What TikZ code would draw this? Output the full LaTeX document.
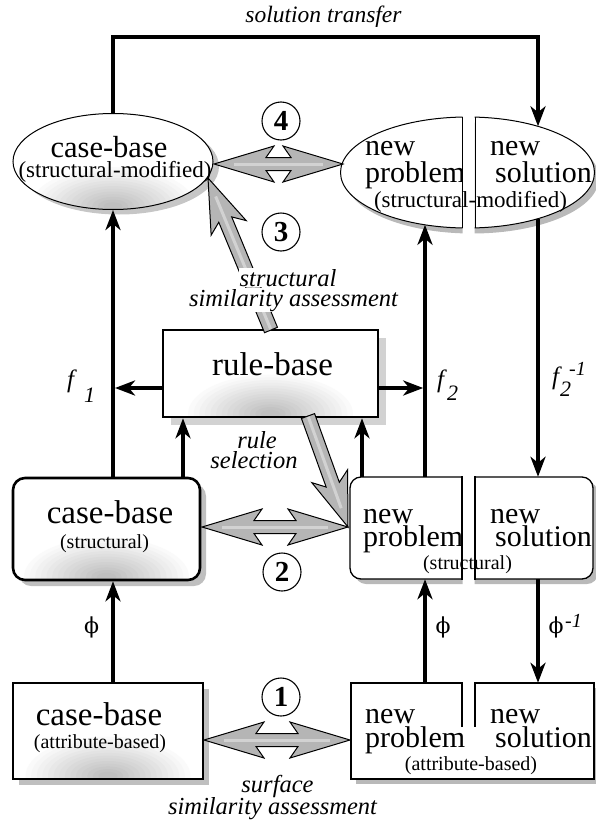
\documentclass[tikz,border=0pt]{standalone}
\usepackage{fontspec}
\setmainfont{Liberation Serif}
\newfontfamily\phifont{DejaVu Serif}
\usetikzlibrary{arrows.meta,shapes.geometric,shadows}

\newdimen\fatxa \newdimen\fatya \newdimen\fatxb \newdimen\fatyb
\newcommand\fatsetup[2]{%
  \pgfextractx{\fatxa}{\pgfpointanchor{#1}{center}}%
  \pgfextracty{\fatya}{\pgfpointanchor{#1}{center}}%
  \pgfextractx{\fatxb}{\pgfpointanchor{#2}{center}}%
  \pgfextracty{\fatyb}{\pgfpointanchor{#2}{center}}%
  \pgfmathsetmacro\fatang{atan2(\fatyb-\fatya,\fatxb-\fatxa)}%
  \pgfmathsetmacro\fatlen{veclen(\fatxb-\fatxa,\fatyb-\fatya)}%
}
\newcommand\fatsingle[2]{%
  \fatsetup{#1}{#2}%
  \begin{scope}[shift={(#1)}, rotate=\fatang]
    \path[fatarrow] (0pt,7pt) -- ({\fatlen pt-45pt},7pt) -- ({\fatlen pt-54pt},19pt) -- ({\fatlen pt},0pt)
      -- ({\fatlen pt-54pt},-19pt) -- ({\fatlen pt-45pt},-7pt) -- (0pt,-7pt) -- cycle;
    \draw[fatlight] (1pt,0pt) -- ({\fatlen pt-20pt},0pt);
  \end{scope}}
\newcommand\fatdouble[2]{%
  \fatsetup{#1}{#2}%
  \begin{scope}[shift={(#1)}, rotate=\fatang]
    \path[fatarrow] (0pt,0pt) -- (60pt,18pt) -- (52pt,6.5pt) -- ({\fatlen pt-52pt},6.5pt) -- ({\fatlen pt-60pt},18pt)
      -- ({\fatlen pt},0pt) -- ({\fatlen pt-60pt},-18pt) -- ({\fatlen pt-52pt},-6.5pt) -- (52pt,-6.5pt) -- (60pt,-18pt) -- cycle;
    \draw[fatlight] (20pt,0pt) -- ({\fatlen pt-20pt},0pt);
  \end{scope}}

\tikzset{
  conn/.style={line width=3.6pt, line join=miter, -{Stealth[length=20pt,width=15pt,inset=6pt]}},
  fatarrow/.style={fill=gray!58, draw=black, line width=1pt, line join=miter, miter limit=10},
  fatlight/.style={draw=gray!35, line width=3pt},
  spot/.style={path picture={%
      \foreach \i in {1,...,14}{%
        \pgfmathsetmacro\spotc{1.8*\i}%
        \fill[black!\spotc] ([yshift=3pt]path picture bounding box.south)
          ellipse [x radius={88pt-5.6pt*\i}, y radius={42pt-2.7pt*\i}];}}},
  casebox/.style={draw, line width=2.6pt, fill=white, spot, inner sep=0pt,
      drop shadow={shadow xshift=6pt, shadow yshift=-6pt, fill=gray!50, opacity=1}},
  rulebox/.style={draw, line width=2.6pt, fill=white, spot, inner sep=0pt,
      drop shadow={shadow xshift=8pt, shadow yshift=-8pt, fill=gray!35, opacity=1}},
  bigtxt/.style={font=\fontsize{33}{33}\selectfont, inner sep=0pt, anchor=base},
  subtxt/.style={font=\fontsize{20}{20}\selectfont, inner sep=0pt, anchor=base},
  subtxtL/.style={font=\fontsize{23}{23}\selectfont, inner sep=0pt, anchor=base},
  nptxt/.style={font=\fontsize{30}{30}\selectfont, inner sep=0pt, anchor=base west},
  itl/.style={font=\fontsize{24.5}{24.5}\selectfont\itshape, inner sep=1pt, anchor=base},
  mathlbl/.style={font=\fontsize{25}{25}\selectfont\itshape, inner sep=0pt, anchor=base west},
  mathsub/.style={font=\fontsize{22}{22}\selectfont\itshape, inner sep=0pt, anchor=base west},
  philbl/.style={font=\fontsize{22}{22}\selectfont\phifont, inner sep=0pt, anchor=base},
  numcirc/.style={circle, draw, line width=1.1pt, fill=white, minimum size=38pt, inner sep=0pt,
      font=\fontsize{29}{29}\selectfont\bfseries},
  ghost/.style={draw=none, inner sep=0pt}
}

\begin{document}
\begin{tikzpicture}[x=1pt,y=-1pt]
\useasboundingbox (0,0) rectangle (595,827);

% ---------- left column nodes ----------
\node[ellipse, draw, line width=1pt, fill=white, spot, inner sep=0pt,
      drop shadow={shadow xshift=6pt, shadow yshift=-5pt, fill=gray!45, opacity=1},
      minimum width=200pt, minimum height=96pt] (cbsm) at (113,161.5) {};
\node[bigtxt, font=\fontsize{30.5}{30.5}\selectfont] (t1) at (109,157) {case-base};
\node[subtxtL] (t2) at (115,177) {(structural-modified)};

\node[rulebox, minimum width=215pt, minimum height=87pt] (rb) at (270.5,373.5) {};
\node[bigtxt] (t7) at (272.5,375) {rule-base};

\node[casebox, rounded corners=12pt, minimum width=187pt, minimum height=102pt] (cbs) at (106.5,529) {};
\node[bigtxt] (t3) at (110,523) {case-base};
\node[subtxt] (t4) at (104.5,548) {(structural)};

\node[casebox, minimum width=190pt, minimum height=96pt] (cba) at (108,731) {};
\node[bigtxt] (t5) at (99,725) {case-base};
\node[subtxt] (t6) at (100,748) {(attribute-based)};

% ---------- right column: split ellipse ----------
\node[ghost, ellipse, minimum width=254pt, minimum height=111pt] (npe) at (467.5,172.5) {};
\begin{scope}
  \clip (0,0) rectangle (462.5,300) (474.5,0) rectangle (600,300);
  \fill[gray!55] (472,178) ellipse [x radius=127pt, y radius=55.5pt];
  \draw[fill=white, line width=1pt] (467.5,172.5) ellipse [x radius=127pt, y radius=55.5pt];
\end{scope}
\begin{scope}
  \clip (0,0) rectangle (461.5,300);
  \node[nptxt] (np1) at (365,155) {new};
  \node[nptxt] (np2) at (365,182) {problem};
\end{scope}
\node[nptxt] (ns1) at (490,155) {new};
\node[nptxt] (ns2) at (495,182) {solution};
\node[subtxtL] (np3) at (470.5,207) {(structural-modified)};
\draw[line width=1pt] (462,117.1) -- (462,227.9);
\draw[line width=1pt] (475,117.2) -- (475,227.8);

% ---------- right column: split structural box ----------
\node[ghost, minimum width=112pt, minimum height=102pt] (nsL) at (406,528) {};
\node[ghost, minimum width=118pt, minimum height=102pt] (nsR) at (534,528) {};
\begin{scope}
  \clip (0,400) rectangle (462.5,650);
  \fill[gray!55, rounded corners=11pt] (355,482) rectangle (485,584);
  \draw[fill=white, line width=1.3pt, rounded corners=11pt] (350,477) rectangle (485,579);
\end{scope}
\begin{scope}
  \clip (474.5,400) rectangle (600,650);
  \fill[gray!55, rounded corners=11pt] (445,482) rectangle (598,584);
  \draw[fill=white, line width=1.3pt, rounded corners=11pt] (440,477) rectangle (593,579);
\end{scope}
\begin{scope}
  \clip (0,400) rectangle (461.5,650);
  \node[nptxt] (sp1) at (363,523) {new};
  \node[nptxt] (sp2) at (363,546) {problem};
\end{scope}
\node[nptxt] (ss1) at (490,523) {new};
\node[nptxt] (ss2) at (495,546) {solution};
\node[subtxt] (ss3) at (467.5,569) {(structural)};
\draw[line width=1.3pt, line cap=rect] (462,477) -- (462,579);
\draw[line width=1.3pt, line cap=rect] (475,477) -- (475,579);

% ---------- right column: split attribute box ----------
\node[ghost, minimum width=111pt, minimum height=96pt] (naL) at (406.5,731) {};
\node[ghost, minimum width=119pt, minimum height=96pt] (naR) at (534.5,731) {};
\fill[gray!55] (356,688) rectangle (599,784);
\fill[white] (351,683) rectangle (594,779);
\draw[line width=2pt, line join=miter] (462,727) -- (462,683) -- (351,683) -- (351,779)
   -- (593.5,779) -- (593.5,683) -- (475,683) -- (475,727);
\node[nptxt] (ap1) at (365,723) {new};
\node[nptxt] (ap2) at (365,747) {problem};
\node[nptxt] (as1) at (490,723) {new};
\node[nptxt] (as2) at (495,747) {solution};
\node[subtxt] (as3) at (471,770) {(attribute-based)};

% ---------- helper coordinates ----------
\coordinate (tl) at (113,37);
\coordinate (tr) at (538,37);
\coordinate (nstop) at (538,126.3);
\coordinate (nsbot) at (538,218.7);
\coordinate (npbot) at (425,224.8);
\coordinate (x425) at (425,0);
\coordinate (x538) at (538,0);
\coordinate (x183) at (183,0);
\coordinate (x362) at (362,0);
\coordinate (yf) at (0,388);
\coordinate (f1tip) at (115,388);
\coordinate (f2tip) at (423.2,388);

% ---------- black connectors ----------
\draw[conn] (cbsm.north) -- (tl) -- (tr) -- (nstop);
\draw[conn] (cbs.north -| cbsm.south) -- (cbsm.south);
\draw[conn] (cba.north -| cbsm.south) -- (cbs.south -| cbsm.south);
\draw[conn] (cbs.north -| x183) -- (rb.south -| x183);
\draw[conn] (nsL.north -| x362) -- (rb.south -| x362);
\draw[conn] (rb.west |- yf) -- (f1tip);
\draw[conn] (rb.east |- yf) -- (f2tip);
\draw[conn] (nsL.north -| x425) -- (npbot);
\draw[conn] (nsbot) -- (nsR.north -| x538);
\draw[conn] (naL.north -| x425) -- (nsL.south -| x425);
\draw[conn] (nsR.south -| x538) -- (naR.north -| x538);

% ---------- gray fat arrows ----------
\coordinate (a4l) at (214,164);
\coordinate (a4r) at (343,164);
\coordinate (a3s) at (271,330);
\coordinate (a3e) at (208,178);
\coordinate (ars) at (308,416);
\coordinate (are) at (348,527);
\coordinate (a2l) at (202,527);
\coordinate (a1l) at (204,740);
\coordinate (a1r) at (350,740);
\fatdouble{a4l}{a4r}
\fatsingle{a3s}{a3e}
\fatsingle{ars}{are}
\fatdouble{a2l}{are}
\fatdouble{a1l}{a1r}

% ---------- numbered circles ----------
\node[numcirc] (c4) at (281,121) {4};
\node[numcirc] (c3) at (281,232) {3};
\node[numcirc] (c2) at (282,572) {2};
\node[numcirc] (c1) at (281,697) {1};

% ---------- italic labels ----------
\node[itl, font=\fontsize{23.5}{23.5}\selectfont\itshape] (title) at (323.5,22) {solution transfer};
\node[itl, fill=white] (ssa1) at (288,286) {structural};
\node[itl, fill=white] (ssa2) at (293.5,306) {similarity assessment};
\node[itl] (rs1) at (257,448) {rule};
\node[itl] (rs2) at (254,468) {selection};
\node[itl] (sur1) at (277.5,792) {surface};
\node[itl] (sur2) at (272.5,814) {similarity assessment};

% ---------- mapping labels ----------
\node[mathlbl] (f1) at (67,387) {f};
\node[mathsub] (f1s) at (84,402) {1};
\node[mathlbl] (f2) at (437,387) {f};
\node[mathsub] (f2s) at (447,400) {2};
\node[mathlbl] (f3) at (552,384) {f};
\node[mathsub] (f3s) at (560,396) {2};
\node[mathsub, font=\fontsize{20}{20}\selectfont\itshape] (f3p) at (569,375) {-1};
\node[philbl] (ph1) at (91.5,633) {ϕ};
\node[philbl] (ph2) at (443,633) {ϕ};
\node[philbl] (ph3) at (556,633) {ϕ};
\node[mathsub, font=\fontsize{20}{20}\selectfont\itshape] (ph3p) at (565,627) {-1};
\end{tikzpicture}
\end{document}
